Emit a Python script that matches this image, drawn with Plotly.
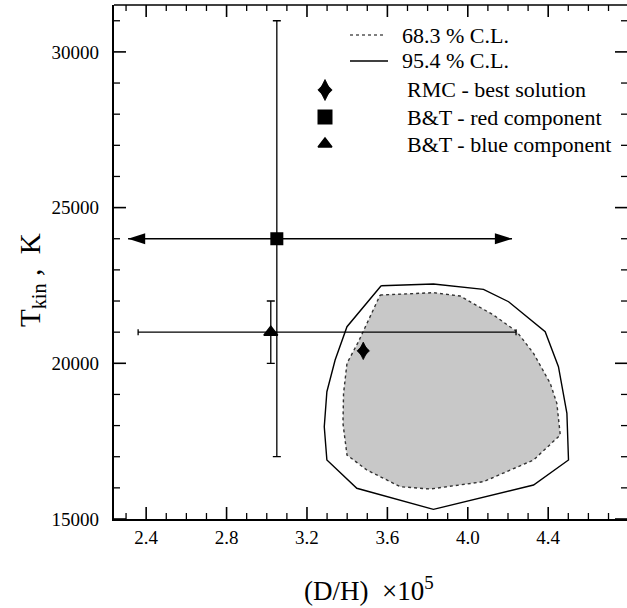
import plotly.graph_objects as go

# ---- data ----
# 95.4 % C.L. contour (outer, solid)
cl95_x = [3.569, 3.829, 4.078, 4.203, 4.385, 4.451, 4.493, 4.501, 4.327, 3.829,
          3.448, 3.299, 3.286, 3.299, 3.340, 3.399, 3.569]
cl95_y = [22491, 22546, 22376, 21977, 21014, 19890, 18394, 16894, 16092, 15311,
          15986, 16894, 17964, 19088, 20105, 21175, 22491]

# 68.3 % C.L. contour (inner, dotted, filled)
cl68_x = [3.564, 3.829, 3.962, 4.128, 4.244, 4.327, 4.410, 4.443, 4.460, 4.327,
          4.078, 3.813, 3.664, 3.498, 3.399, 3.379, 3.382, 3.399, 3.456, 3.564]
cl68_y = [22193, 22267, 22161, 21550, 21014, 20321, 19357, 18715, 17697, 16894,
          16198, 15963, 16037, 16573, 17055, 18073, 19036, 20000, 20693, 22193]

# RMC best solution
rmc_x = [3.48]
rmc_y = [20400]

# B&T red component (horizontal range shown as arrows)
red_x = [3.05]
red_y = [24000]
red_y_err = [7000]
red_x_lo = [2.31]
red_x_hi = [4.22]

# B&T blue component
blue_x = [3.02]
blue_y = [21000]
blue_y_err = [1000]
blue_x_lo = [2.36]
blue_x_hi = [4.24]

legend_labels = ["68.3 % C.L.", "95.4 % C.L.", "RMC - best solution",
                 "B&amp;T - red component", "B&amp;T - blue component"]

x_major = [2.4, 2.8, 3.2, 3.6, 4.0, 4.4]
x_major_text = ["2.4", "2.8", "3.2", "3.6", "4.0", "4.4"]
x_minor = [2.3, 2.5, 2.6, 2.7, 2.9, 3.0, 3.1, 3.3, 3.4, 3.5, 3.7, 3.8, 3.9,
           4.1, 4.2, 4.3, 4.5, 4.6, 4.7]
y_major = [15000, 20000, 25000, 30000]
y_major_text = ["15000", "20000", "25000", "30000"]
y_minor = [16000, 17000, 18000, 19000, 21000, 22000, 23000, 24000,
           26000, 27000, 28000, 29000, 31000]

FONT = "Liberation Serif"
W, H = 627, 608
ML, MR, MT, MB = 114, 0, 5, 89
X_RANGE = [2.24, 4.792]
Y_RANGE = [15000, 31506]
PW = W - ML - MR
PH = H - MT - MB
XPP = (X_RANGE[1] - X_RANGE[0]) / PW   # x units per pixel
YPP = (Y_RANGE[1] - Y_RANGE[0]) / PH   # y units per pixel


# pixel -> axis helpers used only to place the hand-made legend
def px2x(px):
    return X_RANGE[0] + (px - ML) * XPP


def py2y(py):
    return Y_RANGE[0] + (H - MB - py) * YPP


fig = go.Figure()

# outer contour
fig.add_trace(go.Scatter(x=cl95_x, y=cl95_y, mode="lines",
                         line=dict(color="black", width=1.4), showlegend=False))
# inner contour
fig.add_trace(go.Scatter(x=cl68_x, y=cl68_y, mode="lines", fill="toself",
                         fillcolor="#c8c8c8",
                         line=dict(color="#333333", width=1.4, dash="dot"),
                         showlegend=False))

# blue component
fig.add_trace(go.Scatter(
    x=blue_x, y=blue_y, mode="markers",
    marker=dict(symbol="triangle-up", size=12, color="black",
                line=dict(color="black", width=1.5)),
    error_y=dict(type="data", array=blue_y_err, color="black", thickness=1.3, width=4),
    error_x=dict(type="data", symmetric=False,
                 array=[h - c for h, c in zip(blue_x_hi, blue_x)],
                 arrayminus=[c - l for l, c in zip(blue_x_lo, blue_x)],
                 color="black", thickness=1.3, width=3),
    showlegend=False))

# red component
fig.add_trace(go.Scatter(
    x=red_x, y=red_y, mode="markers",
    marker=dict(symbol="square", size=13, color="black"),
    error_y=dict(type="data", array=red_y_err, color="black", thickness=1.3, width=4),
    error_x=dict(type="data", symmetric=False,
                 array=[h - c for h, c in zip(red_x_hi, red_x)],
                 arrayminus=[c - l for l, c in zip(red_x_lo, red_x)],
                 color="black", thickness=1.3, width=0),
    showlegend=False))
# arrow heads for the red component range
fig.add_trace(go.Scatter(
    x=red_x_lo + red_x_hi, y=red_y + red_y, mode="markers",
    marker=dict(symbol="arrow", size=18, angle=[-90, 90], color="black",
                line=dict(width=0)),
    showlegend=False, cliponaxis=False))

# RMC best solution (tall diamond built from two diamond glyphs)
fig.add_trace(go.Scatter(
    x=rmc_x, y=rmc_y, mode="markers",
    marker=dict(symbol="diamond", size=9.5, color="black", line=dict(width=0.8, color="black")),
    showlegend=False))
fig.add_trace(go.Scatter(
    x=rmc_x, y=rmc_y, mode="markers",
    marker=dict(symbol="diamond-tall", size=12.5, color="black", line=dict(width=0.8, color="black")),
    showlegend=False))

# ---- hand-made legend (positions in pixels, converted to axis units) ----
rows_y = [35, 61, 90, 117, 144]
fig.add_trace(go.Scatter(x=[px2x(350), px2x(385)], y=[py2y(rows_y[0])] * 2, mode="lines",
                         line=dict(color="black", width=1.2, dash="dot"),
                         showlegend=False, cliponaxis=False, hoverinfo="skip"))
fig.add_trace(go.Scatter(x=[px2x(350), px2x(388)], y=[py2y(rows_y[1])] * 2, mode="lines",
                         line=dict(color="black", width=1.3),
                         showlegend=False, cliponaxis=False, hoverinfo="skip"))
fig.add_trace(go.Scatter(x=[px2x(325)], y=[py2y(rows_y[2])], mode="markers",
                         marker=dict(symbol="diamond", size=11, color="black",
                                     line=dict(width=0.8, color="black")),
                         showlegend=False, cliponaxis=False, hoverinfo="skip"))
fig.add_trace(go.Scatter(x=[px2x(325)], y=[py2y(rows_y[2])], mode="markers",
                         marker=dict(symbol="diamond-tall", size=15, color="black",
                                     line=dict(width=0.8, color="black")),
                         showlegend=False, cliponaxis=False, hoverinfo="skip"))
fig.add_trace(go.Scatter(x=[px2x(325)], y=[py2y(rows_y[3])], mode="markers",
                         marker=dict(symbol="square", size=15, color="black"),
                         showlegend=False, cliponaxis=False, hoverinfo="skip"))
fig.add_trace(go.Scatter(x=[px2x(325)], y=[py2y(rows_y[4])], mode="markers",
                         marker=dict(symbol="triangle-up", size=12, color="black",
                                     line=dict(color="black", width=1.5)),
                         showlegend=False, cliponaxis=False, hoverinfo="skip"))


# ---- tick marks on all four sides, drawn as line traces from the tick lists ----
def tick_paths(xvals, yvals, length_px):
    tx, ty = [], []
    ly = length_px * YPP
    lx = length_px * XPP
    for v in xvals:
        tx += [v, v, None, v, v, None]
        ty += [Y_RANGE[0], Y_RANGE[0] + ly, None, Y_RANGE[1], Y_RANGE[1] - ly, None]
    for v in yvals:
        tx += [X_RANGE[0], X_RANGE[0] + lx, None, X_RANGE[1], X_RANGE[1] - lx, None]
        ty += [v, v, None, v, v, None]
    return tx, ty


mx, my = tick_paths(x_major, y_major, 12)
fig.add_trace(go.Scatter(x=mx, y=my, mode="lines", connectgaps=False,
                         line=dict(color="black", width=1.6),
                         showlegend=False, cliponaxis=False, hoverinfo="skip"))
nx, ny = tick_paths(x_minor, y_minor, 6)
fig.add_trace(go.Scatter(x=nx, y=ny, mode="lines", connectgaps=False,
                         line=dict(color="black", width=1.3),
                         showlegend=False, cliponaxis=False, hoverinfo="skip"))

text_x = [400, 400, 405, 405, 405]
annotations = []
for lbl, tx, ty in zip(legend_labels, text_x, rows_y):
    annotations.append(dict(x=(tx - ML) / PW, y=(H - MB - ty) / PH, xref="paper", yref="paper",
                            text=lbl, showarrow=False, xanchor="left", yanchor="middle",
                            font=dict(family=FONT, size=22, color="black")))

# axis titles
annotations.append(dict(x=(369 - ML) / PW, y=(H - MB - 589) / PH, xref="paper", yref="paper",
                        text="(D/H)&nbsp; \u00d710<sup>5</sup>", showarrow=False,
                        xanchor="center", yanchor="middle",
                        font=dict(family=FONT, size=27, color="black")))
annotations.append(dict(x=(32 - ML) / PW, y=(H - MB - 280) / PH, xref="paper", yref="paper",
                        text="T<sub>kin</sub> ,  K", showarrow=False, textangle=-90,
                        xanchor="center", yanchor="middle",
                        font=dict(family=FONT, size=29, color="black")))

# top frame line
shapes = [dict(type="line", xref="paper", yref="paper", x0=0, x1=1, y0=1, y1=1,
               line=dict(color="black", width=1.5), layer="above")]

axis_common = dict(showline=True, linecolor="black", linewidth=1.5, mirror=False,
                   ticks="", showgrid=False, zeroline=False, layer="above traces",
                   tickfont=dict(family=FONT, size=19, color="black"))

fig.update_layout(
    width=W, height=H,
    margin=dict(l=ML, r=MR, t=MT, b=MB),
    paper_bgcolor="white", plot_bgcolor="white",
    showlegend=False,
    xaxis=dict(range=X_RANGE, tickmode="array", tickvals=x_major, ticktext=x_major_text,
               **axis_common),
    yaxis=dict(range=Y_RANGE, tickmode="array", tickvals=y_major,
               ticktext=[t + "\u00a0\u00a0" for t in y_major_text],
               **axis_common),
    shapes=shapes,
    annotations=annotations,
)

fig.write_html("out.html")
